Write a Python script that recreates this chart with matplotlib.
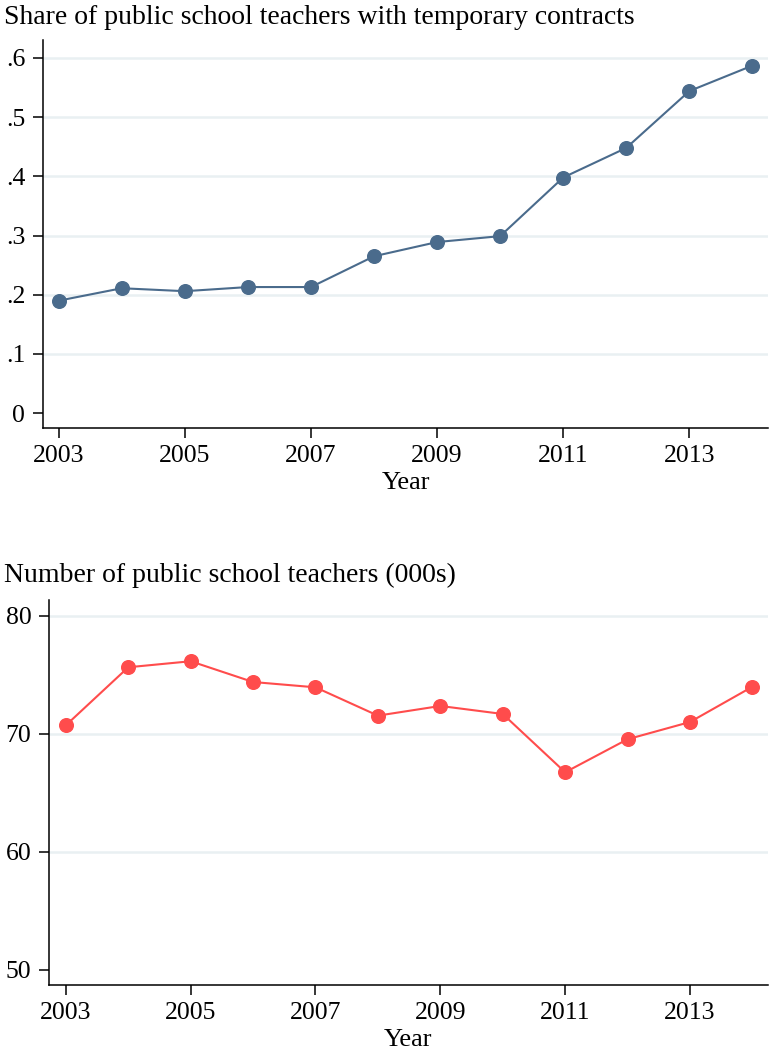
import matplotlib
matplotlib.use("Agg")
import matplotlib.pyplot as plt

# data
years = [2003, 2004, 2005, 2006, 2007, 2008, 2009, 2010, 2011, 2012, 2013, 2014]
share_temp = [0.190, 0.211, 0.206, 0.213, 0.213, 0.265, 0.289, 0.299, 0.398, 0.448, 0.544, 0.587]
n_teachers = [70.71, 75.63, 76.14, 74.38, 73.93, 71.53, 72.35, 71.67, 66.73, 69.53, 70.99, 73.98]

year_ticks = [2003, 2005, 2007, 2009, 2011, 2013]
share_ticks = [0, 0.1, 0.2, 0.3, 0.4, 0.5, 0.6]
share_labels = ["0", ".1", ".2", ".3", ".4", ".5", ".6"]
count_ticks = [50, 60, 70, 80]
count_labels = ["50", "60", "70", "80"]

plt.rcParams["font.family"] = ["Liberation Serif", "DejaVu Serif"]

GRID = "#e9f0f2"


def style_axes(ax, yticks, ylabels):
    for s in ["top", "right"]:
        ax.spines[s].set_visible(False)
    for s in ["left", "bottom"]:
        ax.spines[s].set_linewidth(1.1)
        ax.spines[s].set_color("black")
    ax.set_xticks(year_ticks)
    ax.set_yticks(yticks)
    ax.set_yticklabels(ylabels)
    ax.tick_params(axis="both", length=7.2, width=1.1, labelsize=18.5)
    ax.tick_params(axis="x", pad=5)
    ax.tick_params(axis="y", pad=5.5)
    ax.set_xlabel("Year", fontsize=19, labelpad=4)
    # light horizontal grid, skipping the lowest tick
    for y in yticks[1:]:
        ax.axhline(y, color=GRID, lw=1.8, zorder=0)


fig = plt.figure(figsize=(7.69, 10.51), dpi=100)

ax1 = fig.add_axes([0.0559, 0.5928, 0.943, 0.369])
ax1.plot(years, share_temp, color="#4a6b8c", lw=1.5, marker="o",
         markersize=9.8, zorder=3)
ax1.set_xlim(2002.75, 2014.25)
ax1.set_ylim(-0.025, 0.630)
style_axes(ax1, share_ticks, share_labels)
fig.text(0.005, 0.983, "Share of public school teachers with temporary contracts",
         fontsize=20, ha="left", va="center")

ax2 = fig.add_axes([0.0637, 0.0628, 0.935, 0.3663])
ax2.plot(years, n_teachers, color="#ff4c4c", lw=1.5, marker="o",
         markersize=9.8, zorder=3)
ax2.set_xlim(2002.73, 2014.25)
ax2.set_ylim(48.7, 81.33)
style_axes(ax2, count_ticks, count_labels)
fig.text(0.005, 0.4525, "Number of public school teachers (000s)",
         fontsize=20, ha="left", va="center")

fig.savefig("out.png", dpi=100)
